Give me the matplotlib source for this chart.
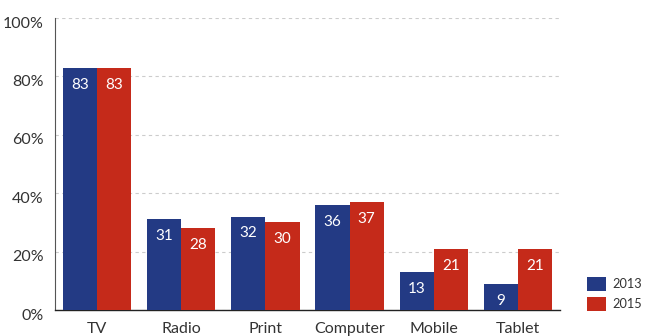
import matplotlib
matplotlib.use("Agg")
import matplotlib.pyplot as plt
import matplotlib.transforms as mtransforms
import numpy as np
from matplotlib.patches import Patch

categories = ["TV", "Radio", "Print", "Computer", "Mobile", "Tablet"]
v2013 = [83, 31, 32, 36, 13, 9]
v2015 = [83, 28, 30, 37, 21, 21]
yticks = [0, 20, 40, 60, 80, 100]

blue = "#233a84"
red = "#c52a1a"
txt = "#333333"

plt.rcParams['font.family'] = ['Lato', 'DejaVu Sans']

fig = plt.figure(figsize=(6.45, 3.36), dpi=100)
ax = fig.add_axes([55/645, 1-310/336, 505/645, 292/336])

x = np.arange(len(categories))
w = 0.405
b1 = ax.bar(x - w/2, v2013, w, color=blue, zorder=3)
b2 = ax.bar(x + w/2, v2015, w, color=red, zorder=3)

for bars, vals in ((b1, v2013), (b2, v2015)):
    for rect, v in zip(bars, vals):
        ax.text(rect.get_x() + rect.get_width()/2, v - 3.4, str(v),
                ha="center", va="top", color="white", fontsize=11, zorder=4)

ax.set_xlim(-0.5, len(categories) - 0.5)
ax.set_ylim(0, 100)
ax.set_yticks(yticks)
ax.set_yticklabels([f"{t}%" for t in yticks])
ax.set_xticks(x)
ax.set_xticklabels(categories)
ax.tick_params(axis="both", length=0, labelsize=11.5, colors=txt)
ax.tick_params(axis="x", pad=8.5)
ax.tick_params(axis="y", pad=8)

offset = mtransforms.ScaledTranslation(0, -4/100, fig.dpi_scale_trans)
for lbl in ax.get_yticklabels():
    lbl.set_transform(lbl.get_transform() + offset)

ax.yaxis.grid(True, linestyle=(0, (3, 3)), color="#cccccc", linewidth=0.8, zorder=0)
ax.set_axisbelow(True)
for s in ("top", "right"):
    ax.spines[s].set_visible(False)
ax.spines["left"].set_color("#555555")
ax.spines["left"].set_linewidth(0.8)
ax.spines["bottom"].set_color("#222222")
ax.spines["bottom"].set_linewidth(1.0)

handles = [Patch(facecolor=blue, label="2013"), Patch(facecolor=red, label="2015")]
fig.legend(handles=handles, loc="lower left", bbox_to_anchor=(587/645, 25/336),
           frameon=False, fontsize=9.2, handlelength=1.45, handleheight=1.35,
           handletextpad=0.55, labelspacing=0.45, borderpad=0, borderaxespad=0,
           labelcolor=txt)

fig.savefig("out.png", dpi=100)
